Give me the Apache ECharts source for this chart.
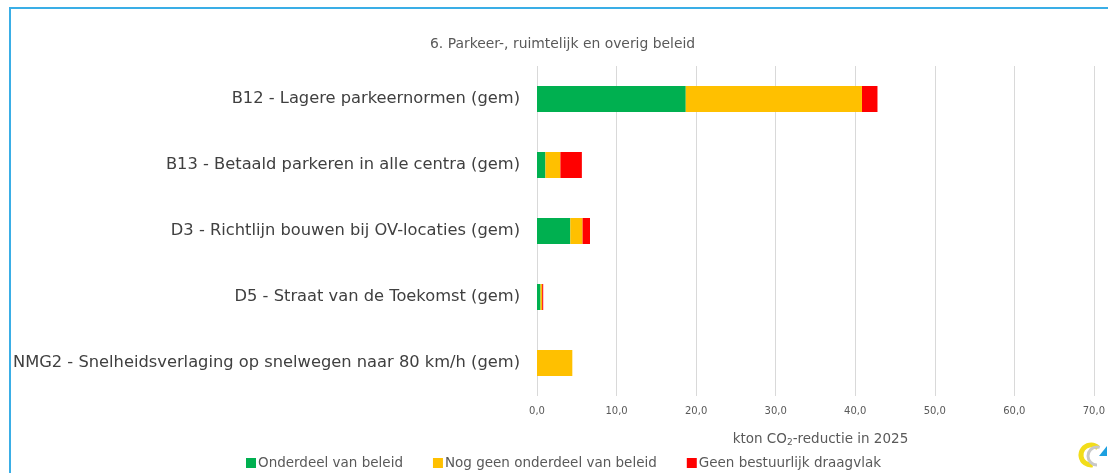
<!DOCTYPE html>
<html>
<head>
<meta charset="utf-8">
<script src="https://cdn.jsdelivr.net/npm/echarts@6/dist/echarts.min.js"></script>
<style>
html,body{margin:0;padding:0;background:#fff;}
#frame{position:absolute;left:9px;top:7px;width:1099px;height:466px;border-left:2px solid #3aaee6;border-top:2px solid #3aaee6;z-index:5;pointer-events:none;box-sizing:border-box;}
#c{position:absolute;left:0;top:0;width:1108px;height:473px;}
</style>
</head>
<body>
<div id="c"></div>
<div id="frame"></div>
<script>
const categories = [
  'B12 - Lagere parkeernormen (gem)',
  'B13 - Betaald parkeren in alle centra (gem)',
  'D3 - Richtlijn bouwen bij OV-locaties (gem)',
  'D5 - Straat van de Toekomst (gem)',
  'NMG2 - Snelheidsverlaging op snelwegen naar 80 km/h (gem)'
];
const seriesNames = ['Onderdeel van beleid', 'Nog geen onderdeel van beleid', 'Geen bestuurlijk draagvlak'];
const onderdeel = [18.7, 1.06, 4.19, 0.44, 0];
const nogGeen = [22.15, 1.88, 1.54, 0.21, 4.44];
const geenDraagvlak = [1.95, 2.7, 0.93, 0.13, 0];
const colors = ['#00b050', '#ffc000', '#ff0000'];
const titleText = '6. Parkeer-, ruimtelijk en overig beleid';

const font = 'DejaVu Sans';
const chart = echarts.init(document.getElementById('c'), null, {renderer: 'canvas'});
const data = [onderdeel, nogGeen, geenDraagvlak];
chart.setOption({
  backgroundColor: 'transparent',
  animation: false,
  title: {
    text: titleText, left: 425, top: 32,
    textStyle: {fontFamily: font, fontSize: 13.9, fontWeight: 'normal', color: '#595959'}
  },
  legend: {
    data: seriesNames, bottom: -2, left: 241,
    icon: 'rect', itemWidth: 10, itemHeight: 10, itemGap: 30,
    textStyle: {fontFamily: font, fontSize: 13.5, color: '#595959', padding: [0,0,0,-3]}
  },
  grid: {left: 537, right: 11, top: 66, bottom: 77, containLabel: false},
  xAxis: {
    type: 'value', min: 0, max: 70, interval: 10,
    name: '{a|kton CO}{s|2}{a|-reductie in 2025}',
    nameLocation: 'middle', nameGap: 35,
    nameTextStyle: {padding: [0,0,0,10], rich: {
      a: {fontFamily: font, fontSize: 13.5, color: '#595959'},
      s: {fontFamily: font, fontSize: 9, color: '#595959', verticalAlign: 'bottom', padding: [7,0,0,0]}
    }},
    axisLine: {show: false}, axisTick: {show: false},
    splitLine: {lineStyle: {color: '#d9d9d9', width: 1}},
    axisLabel: {fontFamily: font, fontSize: 10, color: '#595959', margin: 10,
      formatter: v => v.toFixed(1).replace('.', ',')}
  },
  yAxis: {
    type: 'category', data: categories, inverse: true,
    axisLine: {show: false}, axisTick: {show: false},
    axisLabel: {fontFamily: font, fontSize: 16.3, color: '#404040', margin: 17}
  },
  series: seriesNames.map((n, i) => ({
    name: n, type: 'bar', stack: 'total', data: data[i], barWidth: 26,
    itemStyle: {color: colors[i]}
  })),
  graphic: [
    {type: 'arc', shape: {cx: 1091, cy: 455, r: 10, startAngle: Math.PI*0.45, endAngle: Math.PI*1.75},
     style: {stroke: '#f2dd1a', lineWidth: 5, fill: null}},
    {type: 'arc', shape: {cx: 1097, cy: 456, r: 9, startAngle: Math.PI*0.5, endAngle: Math.PI*1.6},
     style: {stroke: '#c8c8c8', lineWidth: 3, fill: null}},
    {type: 'polygon', shape: {points: [[1099,456],[1107,446],[1107,456]]}, style: {fill: '#1ea0e0'}}
  ]
});
</script>
</body>
</html>
